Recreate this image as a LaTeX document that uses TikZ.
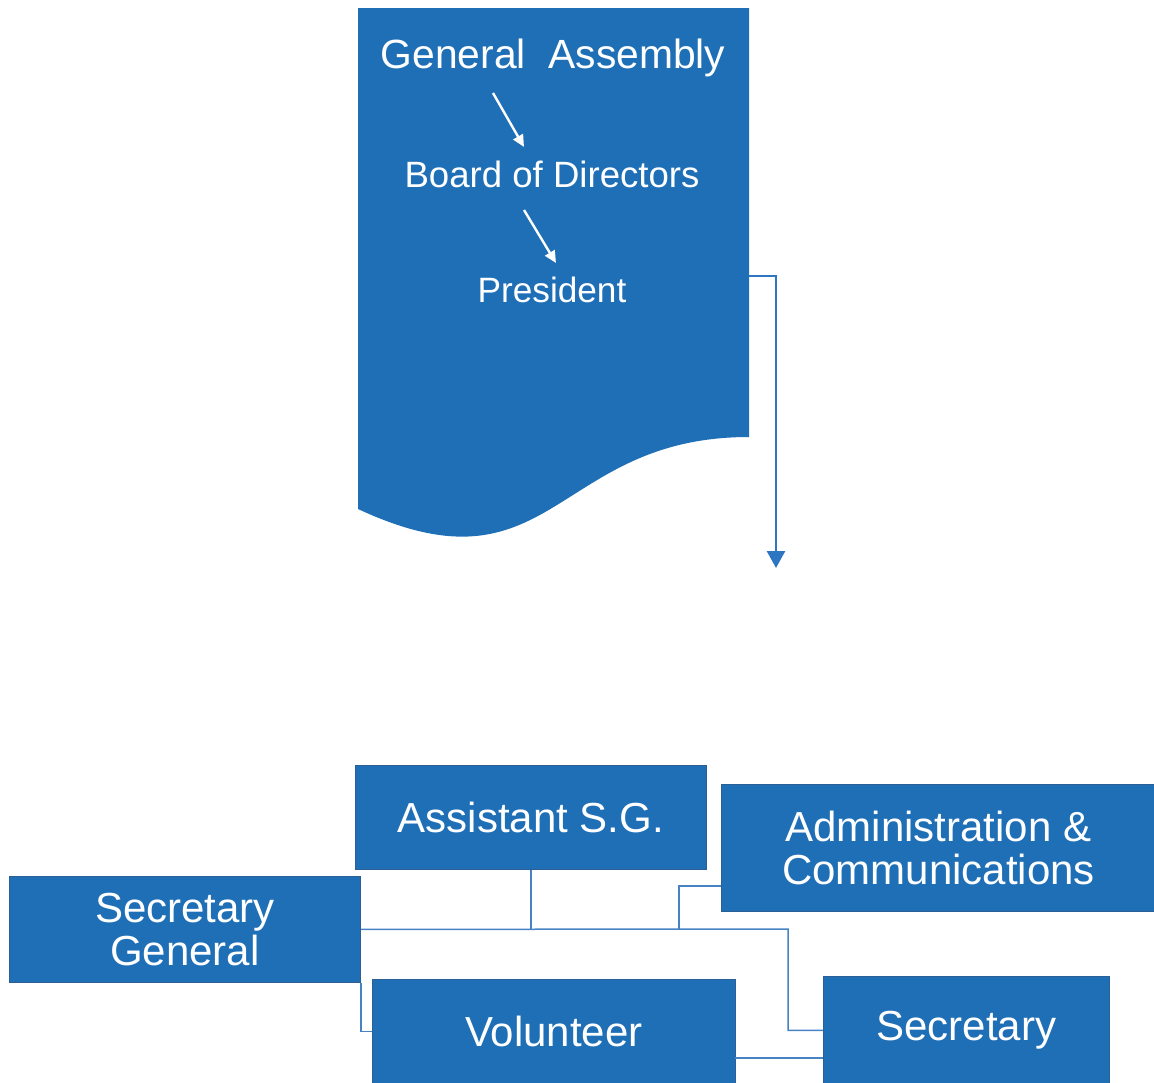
\documentclass[tikz,border=0pt]{standalone}
\usepackage{fontspec}
\setmainfont{Liberation Sans}
\usetikzlibrary{arrows.meta}
\definecolor{boxblue}{RGB}{31,111,183}
\definecolor{edgeblue}{RGB}{45,95,150}
\definecolor{lineblue}{RGB}{70,130,196}
\definecolor{arrowblue}{RGB}{46,117,194}
\begin{document}
\begin{tikzpicture}[x=1pt,y=-1pt,
  orgbox/.style={fill=boxblue,draw=edgeblue,line width=0.8pt,anchor=north west,
    inner sep=0pt,text=white,align=center,font=\fontsize{42}{43}\selectfont},
  doctext/.style={text=white,inner sep=0pt,anchor=base},
  link/.style={draw=lineblue,line width=1.5pt},
  whitearrow/.style={draw=white,line width=2.4pt,-{Triangle[length=12pt,width=11pt]}},
  mainarrow/.style={draw=arrowblue,line width=2.6pt,-{Triangle[length=17pt,width=18pt]}}]
\useasboundingbox (0,0) rectangle (1154,1082);
\clip (0,0) rectangle (1154,1082);

% document shape
\fill[boxblue] (358,8) -- (749,8) -- (749,437)
  .. controls (553.5,437) and (553.5,600) .. (358,509) -- cycle;
\node[doctext,font=\fontsize{40.8}{42}\selectfont] (ga) at (553,68) {General~~Assembly};
\node[doctext,font=\fontsize{36.6}{40}\selectfont] (bod) at (552,187) {Board of Directors};
\node[doctext,font=\fontsize{35.2}{40}\selectfont] (pres) at (552,302) {President};
\coordinate (a1s) at (493,93);
\coordinate (a1e) at (524,147);
\coordinate (a2s) at (524,210);
\coordinate (a2e) at (556,263);
\draw[whitearrow] (a1s) -- (a1e);
\draw[whitearrow] (a2s) -- (a2e);

\coordinate (docR) at (749,276);
\coordinate (tip) at (776,568);
\draw[mainarrow] (docR) -| (tip);

% boxes
\node[orgbox,minimum width=351pt,minimum height=104pt] (asg) at (355,765) {Assistant S.G.};
\node[orgbox,minimum width=434pt,minimum height=127pt] (admin) at (721,784) {Administration \&\\Communications};
\node[orgbox,minimum width=351pt,minimum height=106pt] (sg) at (9,876) {Secretary\\General};
\node[orgbox,minimum width=363pt,minimum height=104pt] (vol) at (372,979) {Volunteer};
\node[orgbox,minimum width=286pt,minimum height=108pt] (sec) at (823,976) {Secretary};

% connectors
\coordinate (j1) at (788,929);
\coordinate (j2) at (679,929);
\coordinate (adminIn) at (721,886);
\coordinate (volOut) at (735,1058);
\draw[link] (asg.south) -- (asg.south |- sg.east);
\draw[link] (sg.east) -- (j1) |- (sec.west);
\draw[link] (j2) |- (adminIn);
\draw[link] (sg.south east) |- (vol.west);
\draw[link] (volOut) -- (volOut -| sec.west);
\end{tikzpicture}
\end{document}
